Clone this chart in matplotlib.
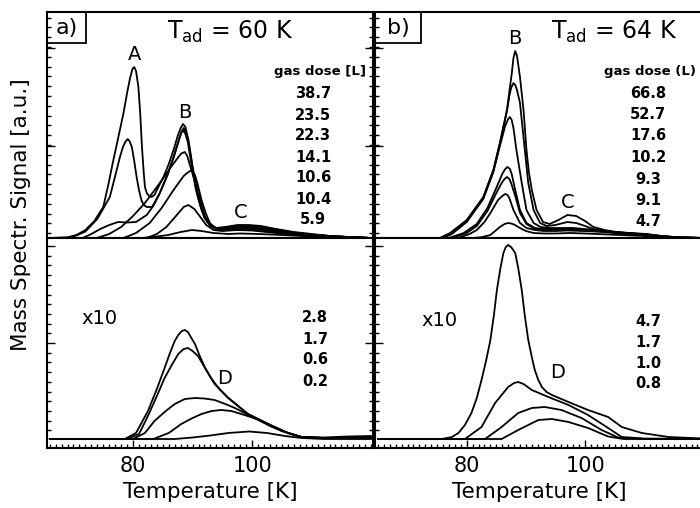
import matplotlib.pyplot as plt
from matplotlib.patches import Rectangle
from matplotlib.ticker import FixedLocator, MultipleLocator
import numpy as np

plt.rcParams['font.family'] = ['DejaVu Sans']
plt.rcParams['mathtext.default'] = 'regular'

# ---- panel a), upper part (signal, a.u.) ----
a1_T = [66, 69, 70.5, 72, 73.5, 75, 75.8, 76.7, 77.5, 78.4, 79.0, 79.5, 79.9, 80.2, 80.5, 80.9, 81.2, 81.5, 81.8,
        82.0, 82.3, 82.7, 83.1, 83.6, 84.0, 85.1, 86.0, 86.8, 87.5, 88.0, 88.4, 88.8, 89.2, 89.6, 90.1, 90.6, 91.0,
        91.5, 92.0, 92.5, 93.0, 94.0, 95.5, 97.5, 99.5, 101.5, 104, 107, 110, 113, 116, 120]
a1_S = [0, 0.5, 3, 8, 17, 31, 52, 78, 100, 125, 145, 160, 169, 171, 167, 151, 125, 91, 65,
        51, 45, 42, 41, 43, 48, 61, 74, 88, 102, 110, 114, 111, 100, 85, 68, 52, 42,
        31, 22, 16, 13, 10, 11, 13, 13, 12, 9, 6, 4, 2, 1, 0]
a2_T = [66, 69, 70.5, 72, 74, 76.1, 77.0, 77.8, 78.3, 78.7, 79.1, 79.4, 79.8, 80.2, 80.6, 81.0, 81.4, 81.8, 82.3,
        83.2, 84.5, 85.8, 86.8, 87.8, 88.2, 88.5, 88.9, 89.3, 89.7, 90.1, 90.5, 91.0, 91.5, 92.0, 93.0, 94.0, 95.5,
        97.5, 99.5, 101.5, 104, 107, 110, 113, 116, 120]
a2_S = [0, 0.5, 2.5, 6.5, 19, 41, 62, 81, 91, 96, 99, 97, 91, 77, 61, 48, 38, 33, 31,
        31, 45, 64, 80, 100, 107, 110, 106, 98, 83, 66, 52, 40, 30, 21, 13, 10, 10.5,
        12, 12, 11, 8.5, 5.5, 3.5, 2, 1, 0]
a3_T = [66, 71.5, 73, 74.5, 76, 77.5, 79, 80.5, 82.3, 83.5, 84.5, 85.8, 86.8, 87.7, 88.1, 88.4, 88.8, 89.2, 89.6,
        90.1, 90.5, 91.0, 91.5, 92.0, 93.0, 94.0, 95.5, 97.5, 99.5, 101.5, 104, 107, 110, 113, 116, 120]
a3_S = [0, 0, 4, 9, 13, 16, 15.5, 16, 23, 33, 45, 63, 81, 98, 105, 108, 104, 96, 81,
        64, 50, 38, 28, 20, 12, 9.5, 10, 11, 11, 10, 8, 5, 3, 2, 1, 0]
a4_T = [66, 73.9, 76, 78, 80, 82, 84.5, 86.5, 87.5, 88.1, 88.7, 89.1, 89.6, 90.2, 90.7, 91.5, 92.1, 93, 94,
        95.5, 97.5, 99.5, 101.5, 104, 107, 110, 113, 116, 120]
a4_S = [0, 0, 4, 11, 22, 35, 55, 72, 80, 84.5, 86, 82, 72, 60, 51, 33, 21, 12, 9,
        9, 10, 10, 9, 7, 4.5, 3, 2, 1, 0]
a5_T = [66, 78.4, 80.5, 82.8, 84.8, 86.8, 88.5, 89.3, 89.9, 90.4, 90.8, 91.5, 92.2, 92.9, 94, 95.5, 97.5, 99.5,
        101.5, 104, 107, 110, 113, 116, 120]
a5_S = [0, 0, 5, 15, 30, 48, 62, 66, 68, 63, 55, 38, 25, 15, 9, 8, 9, 9,
        8, 6, 4, 2.5, 1.5, 0.8, 0]
a6_T = [66, 82.3, 84, 85.6, 87.5, 88.5, 89.3, 90.3, 91.3, 92.3, 93.5, 95, 97.5, 100, 104, 108, 112, 116, 120]
a6_S = [0, 0, 4, 11, 24, 31, 33, 29, 21, 13, 8, 7, 8, 7.5, 5, 3, 2, 1, 0]
a7_T = [66, 81.5, 84, 85.9, 88, 89.9, 91.5, 93.5, 96, 98, 101, 105, 110, 115, 120]
a7_S = [0, 0, 1.5, 3, 6, 8, 7, 5, 4, 4.5, 4, 3, 1.5, 0.5, 0]
a_doses = ['38.7', '23.5', '22.3', '14.1', '10.6', '10.4', '5.9']

# ---- panel a), lower part (x10) ----
aL1_T = [66, 78.6, 80.5, 82.5, 84, 85.3, 86.2, 87, 87.6, 88.2, 88.7, 89.2, 89.7, 90.4, 91.2, 92.1, 93.7, 96, 99.3,
         102.7, 106, 108.3, 112, 116, 120]
aL1_S = [0, 0, 6, 28, 50, 71, 86, 98, 104, 108, 109, 107, 102, 95, 83, 71, 55, 41, 25,
         15, 6, 2, 1.5, 2.5, 3]
aL2_T = [66, 79, 81, 82.5, 84, 85.3, 86.6, 87.6, 88.5, 89.2, 90, 90.9, 92, 93.2, 94.5, 96, 99.3, 102.7, 106, 108.3,
         112, 116, 120]
aL2_S = [0, 0, 5, 23, 43, 61, 75, 85, 90, 91, 88, 83, 72, 60, 50, 41, 25, 15, 6, 2,
         1, 1.5, 2]
aL3_T = [66, 80, 82, 83.6, 85.5, 87, 88.7, 90.4, 92, 93.7, 95.5, 97.1, 100.4, 103, 105, 108.3, 112, 116, 120]
aL3_S = [0, 0, 6, 18, 28, 35, 40, 41, 40.5, 39, 35, 31, 21, 13, 8, 2, 1, 1, 1.5]
aL4_T = [66, 83.4, 86, 88.1, 90, 91.5, 93.2, 94.8, 96.5, 98.2, 100, 101.6, 103.5, 105, 108.3, 112, 116, 120]
aL4_S = [0, 0, 6, 15, 21, 25, 28, 29, 28, 25, 21.5, 18, 12, 8, 2, 1, 1, 1]
aL5_T = [66, 87, 90, 93, 96, 99.5, 102.5, 105.5, 108.3, 112, 120]
aL5_S = [0, 0, 1.5, 3.5, 6, 7.5, 6, 3, 1, 0, 0]
aL_doses = ['2.8', '1.7', '0.6', '0.2']

# ---- panel b), upper part ----
b1_T = [65, 75.5, 77.2, 80, 82.8, 84.5, 85.6, 86.8, 87.2, 87.6, 87.9, 88.2, 88.5, 89.0, 89.6, 90.1, 90.5, 91.0,
        91.8, 92.9, 94.0, 95.5, 97.0, 98.5, 100, 101.4, 103.3, 105.3, 107.6, 110.4, 113, 116, 120]
b1_S = [0, 0, 5, 18, 41, 68, 95, 128, 146, 164, 180, 187, 182, 161, 128, 88, 66, 48,
        28, 16, 14, 18, 23, 22, 17, 11, 8, 6, 5, 4, 2, 0.5, 0]
b2_T = [65, 75.5, 77.2, 80, 82.8, 84.5, 85.6, 86.8, 87.2, 87.5, 87.9, 88.2, 88.5, 89.0, 89.7, 90.4, 91.3, 92.4,
        93.5, 95.0, 97.0, 98.5, 100, 101.4, 103.3, 105.3, 107.6, 110.4, 113, 116, 120]
b2_S = [0, 0, 4.5, 17, 40, 67, 94, 127, 142, 150, 155, 153, 148, 135, 95, 55, 28, 15,
        12, 13, 16, 15, 12, 9, 7, 5.5, 4.5, 3.5, 1.8, 0.5, 0]
b3_T = [65, 76, 77.5, 80, 82.8, 84.5, 85.6, 86.5, 87.0, 87.3, 87.6, 87.9, 88.4, 89.3, 90.1, 91.3, 92.5, 94, 96, 98,
        100, 102, 104, 107, 110.4, 113, 116, 120]
b3_S = [0, 0, 4, 16, 39, 66, 92, 112, 119, 121, 118, 110, 88, 55, 28, 15, 11, 10, 10, 10,
        9, 8, 6.5, 5, 3.5, 1.8, 0.5, 0]
b4_T = [65, 77, 79.5, 81.7, 83.5, 85, 86, 86.5, 86.9, 87.3, 87.6, 88.2, 89.0, 90.1, 91.5, 93, 95, 97, 100, 103, 107,
        110.4, 113, 116, 120]
b4_S = [0, 0, 5, 14, 30, 50, 64, 69, 71, 69, 64, 48, 28, 15, 10, 9, 9, 9, 8, 7, 5,
        3.5, 1.8, 0.5, 0]
b5_T = [65, 77.5, 80, 81.7, 83.5, 85, 86, 86.4, 86.8, 87.2, 87.5, 88.2, 89.0, 90.1, 91.5, 93, 95, 97, 100, 103,
        107, 110.4, 113, 116, 120]
b5_S = [0, 0, 5, 12, 27, 45, 56, 59, 61, 59, 55, 42, 25, 14, 9, 8, 8, 8.5, 7.5, 6.5,
        4.5, 3, 1.5, 0.5, 0]
b6_T = [65, 78.5, 80.5, 81.7, 83, 84, 85.3, 86.0, 86.5, 86.9, 87.2, 87.9, 89.0, 90.1, 91.5, 93, 95, 97, 100, 103,
        107, 110.4, 113, 116, 120]
b6_S = [0, 0, 4, 8, 16, 25, 38, 42, 44, 43, 40, 28, 15, 10, 8, 7, 7, 7.5, 7, 6,
        4, 2.5, 1.3, 0.5, 0]
b7_T = [65, 81, 82.5, 84, 85.6, 86.4, 87, 87.5, 88, 89, 90, 91.3, 93, 95, 97.5, 100, 104, 108, 112, 116, 120]
b7_S = [0, 0, 0.8, 3, 11, 14, 15, 14.5, 13.5, 10, 7, 5, 4.5, 4.5, 5, 4.5, 3.5, 2.5, 1.5, 0.5, 0]
b_doses = ['66.8', '52.7', '17.6', '10.2', '9.3', '9.1', '4.7']

# ---- panel b), lower part (x10) ----
bL1_T = [65, 75.8, 77.5, 78.6, 79.7, 80.8, 81.7, 82.5, 83.3, 84, 84.6, 85.1, 85.7, 86.2, 86.6, 87.0, 87.5, 88.2,
         88.7, 89.3, 89.8, 90.4, 91.0, 91.5, 92.1, 92.7, 93.5, 94.4, 97.2, 100.5, 103.9, 106.2, 109.6, 114.1, 120]
bL1_S = [0, 0, 2, 6, 14, 26, 41, 59, 79, 99, 124, 149, 171, 186, 192, 194, 192, 186,
         171, 149, 124, 99, 82, 69, 59, 52, 47, 44, 37, 29, 22, 12, 6, 2, 0.5]
bL2_T = [65, 79.7, 82.5, 84.8, 87, 88.0, 88.7, 89.6, 91, 93.8, 97.2, 100.5, 103.9, 106.2, 110, 120]
bL2_S = [0, 0, 12, 36, 52, 56, 57, 55, 49, 42, 34, 24, 11, 2, 0.5, 0]
bL3_T = [65, 83.1, 85.9, 88.7, 91, 93.2, 96, 99.4, 102.8, 105.6, 110, 120]
bL3_S = [0, 0, 12, 26, 31, 32, 29, 21, 9, 1.5, 0, 0]
bL4_T = [65, 85.9, 88.7, 92.1, 94.4, 97.2, 100.5, 103.9, 106.5, 120]
bL4_S = [0, 0, 9, 19, 20, 17, 11, 2.5, 0, 0]
bL_doses = ['4.7', '1.7', '1.0', '0.8']

a_up_curves = [(a1_T, a1_S), (a2_T, a2_S), (a3_T, a3_S), (a4_T, a4_S), (a5_T, a5_S), (a6_T, a6_S), (a7_T, a7_S)]
a_lo_curves = [(aL1_T, aL1_S), (aL2_T, aL2_S), (aL3_T, aL3_S), (aL4_T, aL4_S), (aL5_T, aL5_S)]
b_up_curves = [(b1_T, b1_S), (b2_T, b2_S), (b3_T, b3_S), (b4_T, b4_S), (b5_T, b5_S), (b6_T, b6_S), (b7_T, b7_S)]
b_lo_curves = [(bL1_T, bL1_S), (bL2_T, bL2_S), (bL3_T, bL3_S), (bL4_T, bL4_S)]

W, H = 700, 508
fig = plt.figure(figsize=(7, 5.08), dpi=100)


def px_axes(x0, y0, x1, y1):
    return fig.add_axes([x0 / W, 1 - y1 / H, (x1 - x0) / W, (y1 - y0) / H])


def fig_text(x, y, s, **kw):
    fig.text(x / W, 1 - y / H, s, **kw)


a_up = px_axes(47, 12, 373, 238)
a_lo = px_axes(47, 238, 373, 448)
b_up = px_axes(375, 12, 704, 238)
b_lo = px_axes(375, 238, 704, 448)

for ax, xl in [(a_up, (65.55, 120.3)), (a_lo, (65.55, 120.3)), (b_up, (64.5, 120.1)), (b_lo, (64.5, 120.1))]:
    ax.set_xlim(*xl)
    for sp in ax.spines.values():
        sp.set_linewidth(1.5)

for ax in (a_up, b_up):
    ax.set_ylim(0, 226)
    ax.yaxis.set_major_locator(FixedLocator([92, 190]))
    ax.yaxis.set_minor_locator(FixedLocator(np.arange(4.8, 226, 9.8)))
for ax in (a_lo, b_lo):
    ax.set_ylim(-9, 201)
    ax.yaxis.set_major_locator(FixedLocator([96, 193]))
    ax.yaxis.set_minor_locator(FixedLocator(np.arange(8.7, 201, 9.7)))
    ax.xaxis.set_major_locator(FixedLocator([80, 100]))
    ax.xaxis.set_minor_locator(MultipleLocator(1))

for ax in (a_up, a_lo, b_up, b_lo):
    ax.tick_params(which='both', direction='in', top=False, right=(ax in (a_up, a_lo)),
                   labelleft=False, width=1)
    ax.tick_params(which='major', length=6)
    ax.tick_params(which='minor', length=3)
for ax in (a_up, b_up):
    ax.tick_params(axis='x', which='both', bottom=False, labelbottom=False)
for ax in (a_lo, b_lo):
    ax.tick_params(axis='x', which='both', bottom=True, labelsize=15, pad=6)
    ax.set_xlabel('Temperature [K]', fontsize=15.5, labelpad=4)

for ax, curves in [(a_up, a_up_curves), (a_lo, a_lo_curves), (b_up, b_up_curves), (b_lo, b_lo_curves)]:
    for T, S in curves:
        ax.plot(T, S, color='black', lw=1.3, solid_joinstyle='round', solid_capstyle='round')

# panel labels
for ax, lab, wpx, axw in [(a_up, 'a)', 39, 326), (b_up, 'b)', 46, 329)]:
    ax.add_patch(Rectangle((0, 1 - 31 / 226), wpx / axw, 31 / 226, transform=ax.transAxes,
                           fill=False, lw=1.3, clip_on=False))
    ax.text(wpx / axw / 2, 1 - 15.5 / 226, lab, transform=ax.transAxes, ha='center', va='center', fontsize=16)

fig_text(230, 32, r'T$_{ad}$ = 60 K', ha='center', va='center', fontsize=17)
fig_text(614, 32, r'T$_{ad}$ = 64 K', ha='center', va='center', fontsize=17)

# peak letters
a_up.text(80.3, 183, 'A', ha='center', va='center', fontsize=14)
a_up.text(88.7, 125, 'B', ha='center', va='center', fontsize=14)
a_up.text(98.0, 25, 'C', ha='center', va='center', fontsize=14)
b_up.text(88.2, 200, 'B', ha='center', va='center', fontsize=14)
b_up.text(97.1, 36, 'C', ha='center', va='center', fontsize=14)
a_lo.text(95.4, 61, 'D', ha='center', va='center', fontsize=14)
b_lo.text(95.4, 66, 'D', ha='center', va='center', fontsize=14)

fig_text(100, 318, 'x10', ha='center', va='center', fontsize=14)
fig_text(440, 320, 'x10', ha='center', va='center', fontsize=14)

# dose columns
fig_text(320, 72, 'gas dose [L]', ha='center', va='center', fontsize=9.5, fontweight='bold')
fig_text(650, 72, 'gas dose (L)', ha='center', va='center', fontsize=9.5, fontweight='bold')
for i, d in enumerate(a_doses):
    fig_text(313, 94 + 21 * i, d, ha='center', va='center', fontsize=10.5, fontweight='bold')
for i, d in enumerate(b_doses):
    fig_text(648, 93 + 21.5 * i, d, ha='center', va='center', fontsize=10.5, fontweight='bold')
for i, d in enumerate(aL_doses):
    fig_text(315, 318 + 21 * i, d, ha='center', va='center', fontsize=10.5, fontweight='bold')
for i, d in enumerate(bL_doses):
    fig_text(648, 322 + 20.5 * i, d, ha='center', va='center', fontsize=10.5, fontweight='bold')

fig_text(21, 215, 'Mass Spectr. Signal [a.u.]', ha='center', va='center', rotation=90, fontsize=15.5)

fig.savefig('out.png', dpi=100)
